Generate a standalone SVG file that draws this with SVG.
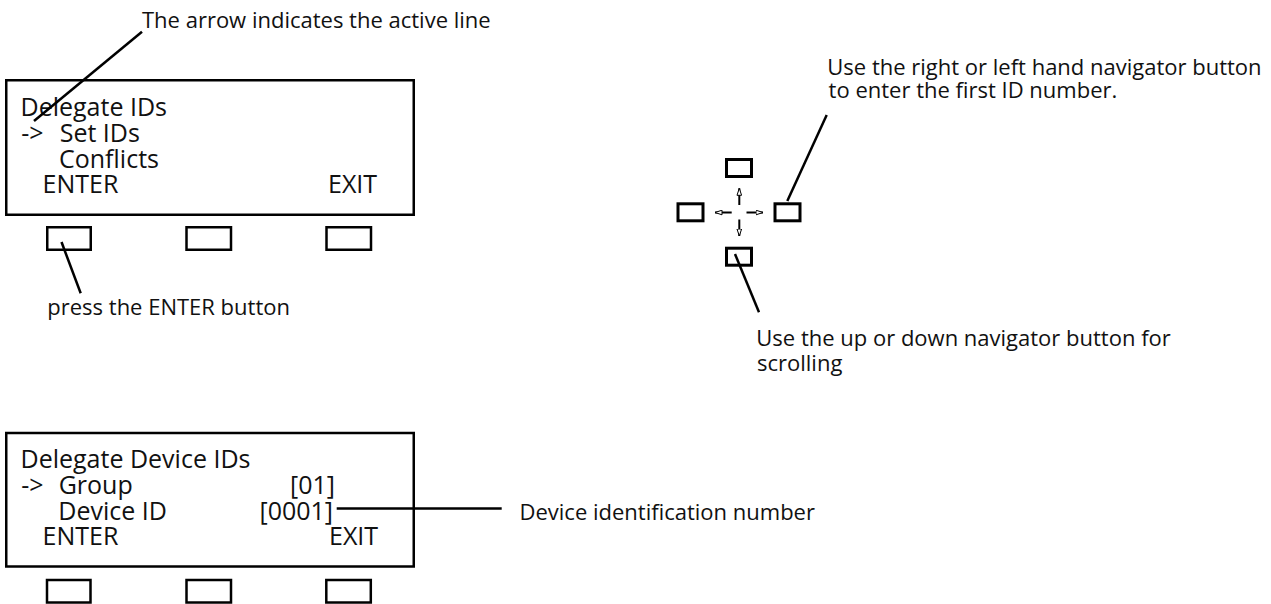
<svg xmlns="http://www.w3.org/2000/svg" width="1271" height="604" viewBox="0 0 1271 604">
<style>
  .box{fill:none;stroke:#000;stroke-width:2.5}
  .btn{fill:#fff;stroke:#000;stroke-width:2.5}
  .nbtn{fill:#fff;stroke:#000;stroke-width:3}
  .lcd{font-family:"Open Sans","Noto Sans",sans-serif;font-size:25px;fill:#111}
  .lbl{font-family:"Open Sans","Noto Sans",sans-serif;font-size:22px;fill:#111}
  .lead{fill:none;stroke:#000;stroke-width:2.5}
  .nav{fill:none;stroke:#000;stroke-width:2}
</style>
<defs>
  <marker id="oa" viewBox="0 0 8 6" refX="7.5" refY="3" markerWidth="8" markerHeight="6" markerUnits="userSpaceOnUse" orient="auto">
    <path d="M0.5,0.7 L7.5,3 L0.5,5.3 Z" fill="#fff" stroke="#000" stroke-width="1"/>
  </marker>
</defs>
<rect width="1271" height="604" fill="#fff"/>

<g id="lcd-top">
  <rect class="box" x="6.25" y="80.25" width="407.5" height="134.5"/>
  <text class="lcd"><tspan x="20.5" y="116">Delegate IDs</tspan><tspan x="21.3" y="142">-&gt;</tspan><tspan x="59.7" y="142">Set IDs</tspan><tspan x="59" y="167.5">Conflicts</tspan><tspan x="42.6" y="193">ENTER</tspan><tspan x="328" y="193">EXIT</tspan></text>
</g>
<g id="lcd-top-buttons">
  <rect class="btn" x="47.25" y="227.25" width="43.5" height="22.5"/>
  <rect class="btn" x="186.5" y="227.25" width="44.5" height="22.5"/>
  <rect class="btn" x="326.5" y="227.25" width="44.5" height="22.5"/>
</g>

<g id="navigator">
  <rect class="nbtn" x="726.5" y="159.5" width="25" height="17"/>
  <rect class="nbtn" x="678" y="203.8" width="25" height="17"/>
  <rect class="nbtn" x="775" y="203.8" width="25" height="17"/>
  <rect class="nbtn" x="726.5" y="248.2" width="25" height="17"/>
  <line class="nav" x1="739.3" y1="205" x2="739.3" y2="188.3" marker-end="url(#oa)"/>
  <line class="nav" x1="739.3" y1="219.5" x2="739.3" y2="236" marker-end="url(#oa)"/>
  <line class="nav" x1="731.7" y1="212.5" x2="715" y2="212.5" marker-end="url(#oa)"/>
  <line class="nav" x1="746.5" y1="212.5" x2="763" y2="212.5" marker-end="url(#oa)"/>
</g>

<g id="lcd-bottom">
  <rect class="box" x="6.25" y="433" width="407.5" height="133.5"/>
  <text class="lcd"><tspan x="20.5" y="468">Delegate Device IDs</tspan><tspan x="21.3" y="494">-&gt;</tspan><tspan x="58.7" y="494">Group</tspan><tspan x="290" y="494">[01]</tspan><tspan x="58.3" y="519.5">Device ID</tspan><tspan x="259.5" y="519.5">[0001]</tspan><tspan x="42.6" y="545">ENTER</tspan><tspan x="329" y="545">EXIT</tspan></text>
</g>
<g id="lcd-bottom-buttons">
  <rect class="btn" x="47" y="580" width="43.5" height="22.5"/>
  <rect class="btn" x="186.5" y="580" width="44.5" height="22.5"/>
  <rect class="btn" x="326.3" y="580" width="44.5" height="22.5"/>
</g>

<g id="connectors">
  <line class="lead" x1="142" y1="31.7" x2="34" y2="121"/>
  <line class="lead" x1="61.5" y1="242" x2="80.7" y2="293.3"/>
  <line class="lead" x1="826.7" y1="115" x2="787.3" y2="201"/>
  <line class="lead" x1="735" y1="254" x2="759" y2="312.3"/>
  <line class="lead" x1="336.7" y1="508.5" x2="501.7" y2="508.5" stroke-width="2"/>
</g>

<g id="labels">
  <text class="lbl" x="142" y="27.5">The arrow indicates the active line</text>
  <text class="lbl" x="47.3" y="315">press the ENTER button</text>
  <text class="lbl"><tspan x="827.3" y="75">Use the right or left hand navigator button</tspan><tspan x="828.6" y="97.5">to enter the first ID number.</tspan></text>
  <text class="lbl"><tspan x="756.3" y="346">Use the up or down navigator button for</tspan><tspan x="757" y="370.5">scrolling</tspan></text>
  <text class="lbl" x="519.5" y="520">Device identification number</text>
</g>
</svg>
